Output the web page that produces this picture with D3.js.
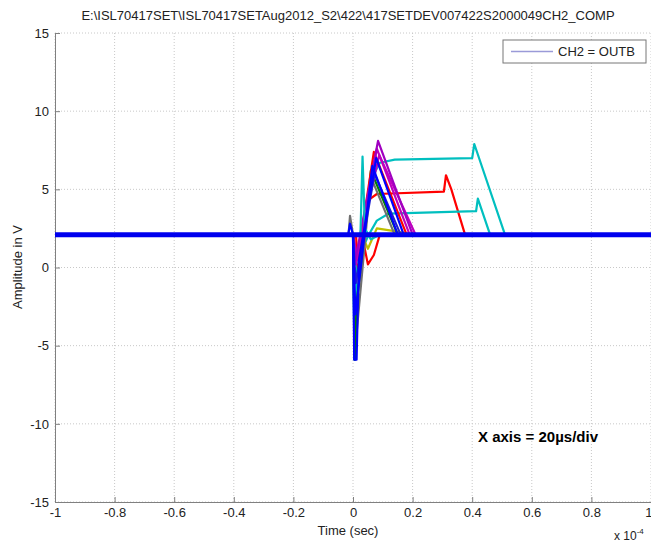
<!DOCTYPE html>
<html>
<head>
<meta charset="utf-8">
<script src="https://cdn.jsdelivr.net/npm/d3@7"></script>
<style>
  body { margin: 0; background: #fff; }
  text { font-family: "Liberation Sans", Arial, sans-serif; }
</style>
</head>
<body>
<script>
// time values in microseconds, amplitude in V
var title = "E:\\ISL70417SET\\ISL70417SETAug2012_S2\\422\\417SETDEV007422S2000049CH2_COMP";
var xTicks = [-1, -0.8, -0.6, -0.4, -0.2, 0, 0.2, 0.4, 0.6, 0.8, 1];   // x 1e-4 s
var yTicks = [-15, -10, -5, 0, 5, 10, 15];
var baseline = [[-100, 2.1], [100, 2.1]];

// transient captures (keypoints)
var traceCyanLong  = [[-100,2.1],[0,2.1],[0.5,-5.9],[1.4,1.0],[4,2.2],[6,5.6],[9,6.7],[14,6.9],[40,7.0],[40.7,7.9],[51,2.1],[100,2.1]];
var traceRedMid    = [[-100,2.1],[1,2.1],[2,-1.0],[5,4.3],[8,4.7],[30.5,4.85],[31.2,5.9],[33,5.0],[37.6,2.1],[100,2.1]];
var traceCyanLow   = [[-100,2.1],[0,2.1],[1,0.2],[5,2.0],[8,3.0],[12,3.45],[41.3,3.6],[41.9,4.4],[46,2.1],[100,2.1]];
var traceMagenta1  = [[-100,2.1],[0,2.1],[0.8,0.5],[8.4,8.1],[20,2.1],[100,2.1]];
var traceMagenta2  = [[-100,2.1],[0,2.1],[1,0.2],[8,7.6],[19,2.1],[100,2.1]];
var traceMagenta3  = [[-100,2.1],[0,2.1],[1.2,0.8],[8.8,7.2],[21,2.1],[100,2.1]];
var traceBlue1     = [[-100,2.1],[0,2.1],[0.4,-5.9],[1.2,-5.9],[2,0.5],[7.8,7.0],[17,2.1],[100,2.1]];
var traceBlue2     = [[-100,2.1],[-1.6,2.1],[-1,2.8],[0,2.1],[0.8,-3],[6.5,6.5],[15,2.1],[100,2.1]];
var traceBlue3     = [[-100,2.1],[0,2.1],[0.9,-1],[7.2,6.0],[16,2.1],[100,2.1]];
var traceGreen     = [[-100,2.1],[0,2.1],[0.6,-5.9],[1.4,-2],[6,6.2],[15,2.1],[100,2.1]];
var traceRedTri    = [[-100,2.1],[0,2.1],[1.5,0.5],[7,7.4],[18,2.1],[100,2.1]];
var traceGray      = [[-100,2.1],[-1.5,2.1],[-1,3.3],[0,2.1],[0.7,-5.9],[1.3,-4],[6,5.8],[14,2.1],[100,2.1]];
var traceCyanSpike = [[-100,2.1],[2.5,2.1],[3.2,7.1],[4,2.5],[6,1.8],[9,2.1],[100,2.1]];
var traceYellow    = [[-100,2.1],[3,2.1],[5,1.2],[8,2.5],[15,2.3],[20,2.1],[100,2.1]];
var traceRedLow    = [[-100,2.1],[3,2.1],[5,0.2],[7,0.8],[9,2.1],[100,2.1]];

var traces = [
  {pts: traceCyanLong,  color: "#00bfbf"},
  {pts: traceRedMid,    color: "#ff0000"},
  {pts: traceCyanLow,   color: "#00bfbf"},
  {pts: traceYellow,    color: "#bfbf00"},
  {pts: traceRedLow,    color: "#ff0000"},
  {pts: traceGray,      color: "#707070"},
  {pts: traceGreen,     color: "#008000"},
  {pts: traceRedTri,    color: "#ff0000"},
  {pts: traceMagenta3,  color: "#bf00bf"},
  {pts: traceMagenta2,  color: "#bf00bf"},
  {pts: traceMagenta1,  color: "#a000c0"},
  {pts: traceCyanSpike, color: "#00bfbf"},
  {pts: traceBlue3,     color: "#2020d0"},
  {pts: traceBlue2,     color: "#0000ff"},
  {pts: traceBlue1,     color: "#0000ff"}
];

var W = 651, H = 542;
var svg = d3.select("body").append("svg").attr("width", W).attr("height", H);

var x = d3.scaleLinear().domain([-100, 100]).range([55, 651]);
var y = d3.scaleLinear().domain([-15, 15]).range([502, 33]);

// grid
svg.selectAll(".gx").data(xTicks).enter().append("line")
  .attr("x1", d => x(d * 100)).attr("x2", d => x(d * 100))
  .attr("y1", y(15)).attr("y2", y(-15))
  .attr("stroke", "#c8c8c8").attr("stroke-dasharray", "1,2");
svg.selectAll(".gy").data(yTicks).enter().append("line")
  .attr("x1", x(-100)).attr("x2", x(100))
  .attr("y1", d => y(d)).attr("y2", d => y(d))
  .attr("stroke", "#c8c8c8").attr("stroke-dasharray", "1,2");

// axes (hyphen minus like the original)
var fmt = v => String(+v.toFixed(1)).replace("\u2212", "-");
var xAxis = d3.axisBottom(x).tickValues(xTicks.map(d => d * 100))
  .tickFormat(d => fmt(d / 100)).tickSizeInner(-5).tickSizeOuter(0).tickPadding(8);
var yAxis = d3.axisLeft(y).tickValues(yTicks).tickFormat(fmt)
  .tickSizeInner(-5).tickSizeOuter(0).tickPadding(6);

var gx = svg.append("g").attr("transform", "translate(0," + y(-15) + ")").call(xAxis);
var gy = svg.append("g").attr("transform", "translate(" + x(-100) + ",0)").call(yAxis);
[gx, gy].forEach(g => {
  g.select(".domain").attr("stroke", "#808080");
  g.selectAll(".tick line").attr("stroke", "#808080");
  g.selectAll("text").attr("fill", "#222").style("font-size", "13px")
    .style("font-family", "'Liberation Sans', Arial, sans-serif");
});
gx.selectAll("text").attr("dy", "0.55em");
// last label sits at the window edge
gx.selectAll(".tick text").filter(d => d === 100).attr("text-anchor", "end").attr("dx", 1);

// traces
var line = d3.line().x(d => x(d[0])).y(d => y(d[1]));
var plot = svg.append("g");
traces.forEach(t => {
  plot.append("path").datum(t.pts).attr("d", line)
    .attr("fill", "none").attr("stroke", t.color).attr("stroke-width", 2.2)
    .attr("stroke-linejoin", "round");
});
plot.append("path").datum(baseline).attr("d", line)
  .attr("fill", "none").attr("stroke", "#0000ee").attr("stroke-width", 5);

// title and labels
svg.append("text").attr("x", 348).attr("y", 20).attr("text-anchor", "middle")
  .style("font-size", "13px").attr("fill", "#222").text(title);
svg.append("text").attr("transform", "translate(22,267) rotate(-90)")
  .attr("text-anchor", "middle").style("font-size", "13px").attr("fill", "#222").text("Amplitude in V");
svg.append("text").attr("x", 348).attr("y", 535).attr("text-anchor", "middle")
  .style("font-size", "13px").attr("fill", "#222").text("Time (sec)");
var mult = svg.append("text").attr("x", 614).attr("y", 540).style("font-size", "12px").attr("fill", "#222");
mult.append("tspan").text("x 10");
mult.append("tspan").attr("dy", -6).style("font-size", "8px").text("-4");

svg.append("text").attr("x", 478).attr("y", 442)
  .style("font-size", "15px").style("font-weight", "bold").attr("fill", "#000")
  .text("X axis = 20\u00b5s/div");

// legend
var lg = svg.append("g");
lg.append("rect").attr("x", 503).attr("y", 40).attr("width", 143).attr("height", 23)
  .attr("fill", "#fff").attr("stroke", "#777");
lg.append("line").attr("x1", 511).attr("x2", 553).attr("y1", 51.5).attr("y2", 51.5)
  .attr("stroke", "#9a9ad8").attr("stroke-width", 1.5);
lg.append("text").attr("x", 558).attr("y", 56).style("font-size", "13px").attr("fill", "#222")
  .text("CH2 = OUTB");
</script>
</body>
</html>
